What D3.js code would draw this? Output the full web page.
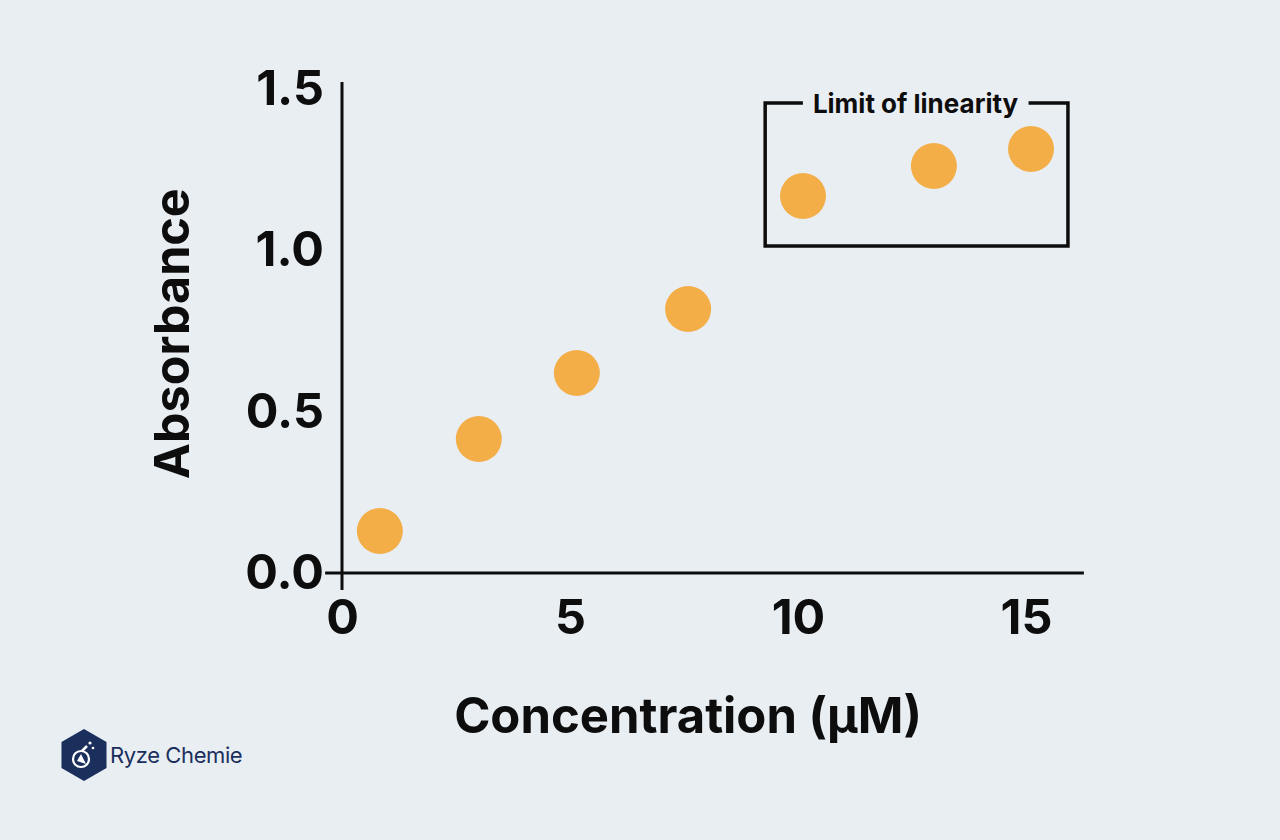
<!DOCTYPE html>
<html><head><meta charset="utf-8">
<script src="https://cdn.jsdelivr.net/npm/d3@7"></script>
<style>
html,body{margin:0;padding:0;background:#E9EEF3;}
svg{display:block;font-family:Inter,"Noto Sans",sans-serif;}
</style></head>
<body>
<script>
const concentration = [0.83, 3.0, 5.15, 7.59, 10.11, 12.98, 15.11];
const absorbance = [0.13, 0.415, 0.619, 0.817, 1.167, 1.26, 1.313];
const xTicks = [0, 5, 10, 15];
const yTicks = [0.0, 0.5, 1.0, 1.5];
const xTitle = "Concentration (μM)";
const yTitle = "Absorbance";
const boxLabel = "Limit of linearity";
const boxX = [9.28, 15.92];
const boxY = [1.012, 1.455];
const brand = "Ryze Chemie";

const W = 1280, H = 840;
const svg = d3.select("body").append("svg").attr("width", W).attr("height", H);
svg.append("rect").attr("width", W).attr("height", H).attr("fill", "#E9EEF3");

const x = d3.scaleLinear().domain([0, 15]).range([342, 1026]);
const y = d3.scaleLinear().domain([0, 1.5]).range([573, 88.5]);
const ink = "#0d0d0d";

// axis lines
svg.append("line").attr("x1", x(0)).attr("x2", x(0)).attr("y1", y(1.52)).attr("y2", y(-0.053))
  .attr("stroke", ink).attr("stroke-width", 3);
svg.append("line").attr("x1", x(-0.37)).attr("x2", x(16.27)).attr("y1", y(0)).attr("y2", y(0))
  .attr("stroke", ink).attr("stroke-width", 3);

// y axis tick labels
const ya = svg.append("g").attr("transform", `translate(${x(0) - 18},0)`)
  .call(d3.axisLeft(y).tickValues(yTicks).tickFormat(d3.format(".1f")).tickSize(0).tickPadding(0));
ya.select(".domain").remove();
ya.selectAll("text").attr("font-size", 48.5).attr("font-weight", 700).attr("fill", ink)
  .attr("font-family", "Inter,sans-serif");

// x axis tick labels
const xa = svg.append("g").attr("transform", `translate(0,${y(0) + 25})`)
  .call(d3.axisBottom(x).tickValues(xTicks).tickFormat(d3.format("d")).tickSize(0).tickPadding(0));
xa.select(".domain").remove();
xa.selectAll("text").attr("font-size", 48.5).attr("font-weight", 700).attr("fill", ink)
  .attr("font-family", "Inter,sans-serif").attr("dy", "0.75em");

// points
svg.append("g").selectAll("circle").data(concentration).join("circle")
  .attr("cx", d => x(d)).attr("cy", (d, i) => y(absorbance[i])).attr("r", 23)
  .attr("fill", "#F3AE48");

// box
const lbl = svg.append("text").attr("x", (x(boxX[0]) + x(boxX[1])) / 2 - 1).attr("y", y(boxY[1]) + 10)
  .attr("text-anchor", "middle").attr("font-size", 26).attr("font-weight", 700).attr("fill", ink)
  .text(boxLabel);
const bb = lbl.node().getBBox();
const bx0 = x(boxX[0]), bx1 = x(boxX[1]), by0 = y(boxY[1]), by1 = y(boxY[0]);
svg.append("path").attr("fill", "none").attr("stroke", ink).attr("stroke-width", 3.5)
  .attr("d", `M${bb.x - 10},${by0} L${bx0},${by0} L${bx0},${by1} L${bx1},${by1} L${bx1},${by0} L${bb.x + bb.width + 10},${by0}`);

// titles
svg.append("text").attr("x", (x(0) + x(15)) / 2 + 4).attr("y", 733).attr("text-anchor", "middle")
  .attr("font-size", 49).attr("font-weight", 700).attr("fill", ink).text(xTitle);
svg.append("text").attr("transform", `translate(189,${(y(0) + y(1.5)) / 2 + 3}) rotate(-90)`)
  .attr("text-anchor", "middle").attr("font-size", 48.5).attr("font-weight", 700).attr("fill", ink).text(yTitle);

// logo
const navy = "#1B2F5C";
const cx = 84, cy = 755, R = 26;
const hex = d3.range(6).map(i => {
  const a = Math.PI / 3 * i + Math.PI / 6;
  return [cx + R * Math.cos(a), cy + R * Math.sin(a)];
});
svg.append("path").attr("d", "M" + hex.join("L") + "Z").attr("fill", navy);
svg.append("circle").attr("cx", cx - 3).attr("cy", cy + 4).attr("r", 8).attr("fill", "none")
  .attr("stroke", "#fff").attr("stroke-width", 2.2);
svg.append("path").attr("d", `M${cx - 2},${cy - 4} L${cx + 3},${cy - 9}`).attr("stroke", "#fff").attr("stroke-width", 2.5);
svg.append("circle").attr("cx", cx + 6).attr("cy", cy - 12).attr("r", 1.6).attr("fill", "#fff");
svg.append("circle").attr("cx", cx + 9).attr("cy", cy - 7).attr("r", 1.3).attr("fill", "#fff");
svg.append("path").attr("d", `M${cx - 7},${cy + 6} L${cx - 3},${cy - 1} L${cx + 2},${cy + 9} Z`).attr("fill", "#fff");
svg.append("text").attr("x", 110).attr("y", 763).attr("font-size", 22).attr("fill", navy)
  .attr("letter-spacing", -0.4).text(brand);
</script>
</body></html>
